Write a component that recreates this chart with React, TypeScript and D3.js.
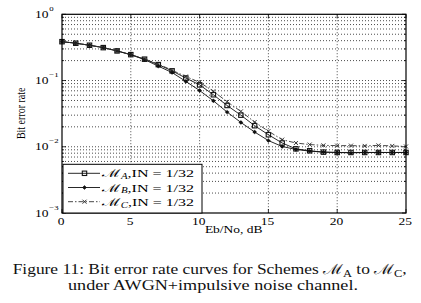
import React from 'react';
import * as d3 from 'd3';

const snrDb = [0, 1, 2, 3, 4, 5, 6, 7, 8, 9, 10, 11, 12, 13, 14, 15, 16, 17, 18, 19, 20, 21, 22, 23, 24, 25];
const berA = [0.386, 0.366, 0.341, 0.314, 0.28, 0.246, 0.21, 0.174, 0.14, 0.109, 0.086, 0.061, 0.042, 0.03, 0.0208, 0.0152, 0.0114, 0.0093, 0.0087, 0.0083, 0.0082, 0.0082, 0.0082, 0.0082, 0.0082, 0.0082];
const berB = [0.386, 0.366, 0.341, 0.314, 0.28, 0.245, 0.207, 0.165, 0.132, 0.097, 0.0707, 0.0494, 0.0334, 0.0233, 0.0167, 0.0124, 0.0101, 0.0091, 0.0086, 0.0083, 0.0082, 0.0081, 0.0082, 0.0082, 0.0082, 0.0082];
const berC = [0.386, 0.366, 0.341, 0.314, 0.28, 0.246, 0.212, 0.177, 0.143, 0.115, 0.094, 0.069, 0.0478, 0.0342, 0.0236, 0.0172, 0.0128, 0.0114, 0.0108, 0.0105, 0.0104, 0.0104, 0.0103, 0.0105, 0.0103, 0.0101];
const xTicks = [0, 5, 10, 15, 20, 25];
const yDecades = [1, 0.1, 0.01, 0.001];
const yExponents = ['0', '\u22121', '\u22122', '\u22123'];
const legendSubs = ['A', 'B', 'C'];

const FONT = "'Liberation Serif', 'DejaVu Serif', serif";
const W = 421, H = 303;
const L = 62, R = 406, T = 14.3, B = 213;

const x = d3.scaleLinear().domain([0, 25]).range([L, R]);
const y = d3.scaleLog().domain([0.001, 1]).range([B, T]);

type Kind = 'square' | 'dot' | 'cross';

function Marker({ cx, cy, kind }: { cx: number; cy: number; kind: Kind }) {
  if (kind === 'square') {
    return <rect x={cx - 2.2} y={cy - 2.2} width={4.4} height={4.4} fill="none" stroke="#111" strokeWidth={1.1} />;
  }
  if (kind === 'dot') {
    return (
      <g>
        <circle cx={cx} cy={cy} r={1.7} fill="#111" />
        <path d={`M${cx - 2.2},${cy}H${cx + 2.2}M${cx},${cy - 2.2}V${cy + 2.2}`} stroke="#111" strokeWidth={0.7} />
      </g>
    );
  }
  return (
    <path
      d={`M${cx - 2},${cy - 2}L${cx + 2},${cy + 2}M${cx - 2},${cy + 2}L${cx + 2},${cy - 2}`}
      stroke="#222"
      strokeWidth={0.9}
    />
  );
}

const series: { data: number[]; kind: Kind; dash?: string; color: string }[] = [
  { data: berA, kind: 'square', color: '#111' },
  { data: berB, kind: 'dot', color: '#111' },
  { data: berC, kind: 'cross', dash: '5,2,1.5,2', color: '#333' },
];

export default function App() {
  const minorVals: number[] = [];
  [0.001, 0.01, 0.1].forEach((d) => {
    for (let k = 2; k <= 9; k++) minorVals.push(d * k);
  });
  const line = d3
    .line<number>()
    .x((_, i) => x(snrDb[i]))
    .y((d) => y(d));

  const sx = 1.35;

  return (
    <svg
      width={W}
      height={H}
      style={{ position: 'fixed', left: 0, top: 0, background: '#fff' }}
      fontFamily={FONT}
    >
      <rect x={0} y={0} width={W} height={H} fill="#fff" />
      {/* grid */}
      <g stroke="#111" strokeWidth={0.85} strokeDasharray="0.9,2.1">
        {minorVals.map((v, i) => (
          <line key={'m' + i} x1={L} x2={R} y1={y(v)} y2={y(v)} />
        ))}
        {[0.1, 0.01].map((v, i) => (
          <line key={'M' + i} x1={L} x2={R} y1={y(v)} y2={y(v)} />
        ))}
        {xTicks.slice(1, -1).map((t) => (
          <line key={'x' + t} x1={x(t)} x2={x(t)} y1={T} y2={B} />
        ))}
      </g>
      {/* ticks */}
      <g stroke="#000" strokeWidth={0.8}>
        {xTicks.map((t) => (
          <g key={'xt' + t}>
            <line x1={x(t)} x2={x(t)} y1={B} y2={B - 4} />
            <line x1={x(t)} x2={x(t)} y1={T} y2={T + 4} />
          </g>
        ))}
        {yDecades.map((v) => (
          <g key={'yt' + v}>
            <line x1={L} x2={L + 4} y1={y(v)} y2={y(v)} />
            <line x1={R} x2={R - 4} y1={y(v)} y2={y(v)} />
          </g>
        ))}
        {minorVals.map((v, i) => (
          <g key={'ymt' + i}>
            <line x1={L} x2={L + 2} y1={y(v)} y2={y(v)} />
            <line x1={R} x2={R - 2} y1={y(v)} y2={y(v)} />
          </g>
        ))}
      </g>
      {/* curves */}
      {series.map((s, si) => (
        <g key={'s' + si}>
          <path d={line(s.data) || ''} fill="none" stroke={s.color} strokeWidth={0.9} strokeDasharray={s.dash} />
          {s.data.map((v, i) => (
            <Marker key={i} cx={x(snrDb[i])} cy={y(v)} kind={s.kind} />
          ))}
        </g>
      ))}
      {/* frame */}
      <rect x={L} y={T} width={R - L} height={B - T} fill="none" stroke="#000" strokeWidth={1.2} />
      {/* legend */}
      <rect x={63} y={164.3} width={139} height={48.7} fill="#fff" stroke="#000" strokeWidth={1} />
      {series.map((s, i) => {
        const ly = 173.3 + i * 14.2;
        return (
          <g key={'lg' + i}>
            <line x1={68} x2={100} y1={ly} y2={ly} stroke={s.color} strokeWidth={0.9} strokeDasharray={s.dash} />
            <Marker cx={84.5} cy={ly} kind={s.kind} />
            <text x={102} y={ly + 4} fontSize={11} textLength={92} lengthAdjust="spacingAndGlyphs" fill="#000">
              <tspan>{'\u2133'}</tspan>
              <tspan fontStyle="italic" fontSize={7.5} dy={1.8}>{legendSubs[i]}</tspan>
              <tspan dy={-1.8}>{',IN = 1/32'}</tspan>
            </text>
          </g>
        );
      })}
      {/* y tick labels */}
      {yDecades.map((v, i) => (
        <g key={'yl' + i}>
          <text transform={`translate(35,${y(v) + 3.6}) scale(${sx},1)`} fontSize={10} fill="#000">
            10
          </text>
          <text transform={`translate(49.3,${y(v) - 3.3}) scale(1.25,1)`} fontSize={7} fill="#000">
            {yExponents[i]}
          </text>
        </g>
      ))}
      {/* x tick labels */}
      {xTicks.map((t) => (
        <text
          key={'xl' + t}
          transform={`translate(${x(t) - 0.8},${224.7}) scale(${sx},1)`}
          fontSize={10}
          textAnchor="middle"
          fill="#000"
        >
          {t}
        </text>
      ))}
      {/* axis labels */}
      <text transform={`translate(233.7,232.7) scale(${sx},1)`} fontSize={10} textAnchor="middle" fill="#000">
        Eb/No, dB
      </text>
      <text
        transform={`translate(25,113.3) scale(${sx},1) rotate(-90)`}
        fontSize={10}
        textAnchor="middle"
        fill="#000"
      >
        Bit error rate
      </text>
      {/* caption */}
      <text x={12.7} y={274.3} fontSize={14} textLength={394} lengthAdjust="spacingAndGlyphs" fill="#111">
        <tspan>{'Figure 11:  Bit error rate curves for Schemes '}</tspan>
        <tspan>{'\u2133'}</tspan>
        <tspan fontSize={10} dy={2.5}>A</tspan>
        <tspan dy={-2.5}>{' to '}</tspan>
        <tspan>{'\u2133'}</tspan>
        <tspan fontSize={10} dy={2.5}>C</tspan>
        <tspan dy={-2.5}>,</tspan>
      </text>
      <text x={68} y={289.5} fontSize={14} textLength={290} lengthAdjust="spacingAndGlyphs" fill="#111">
        under AWGN+impulsive noise channel.
      </text>
    </svg>
  );
}
